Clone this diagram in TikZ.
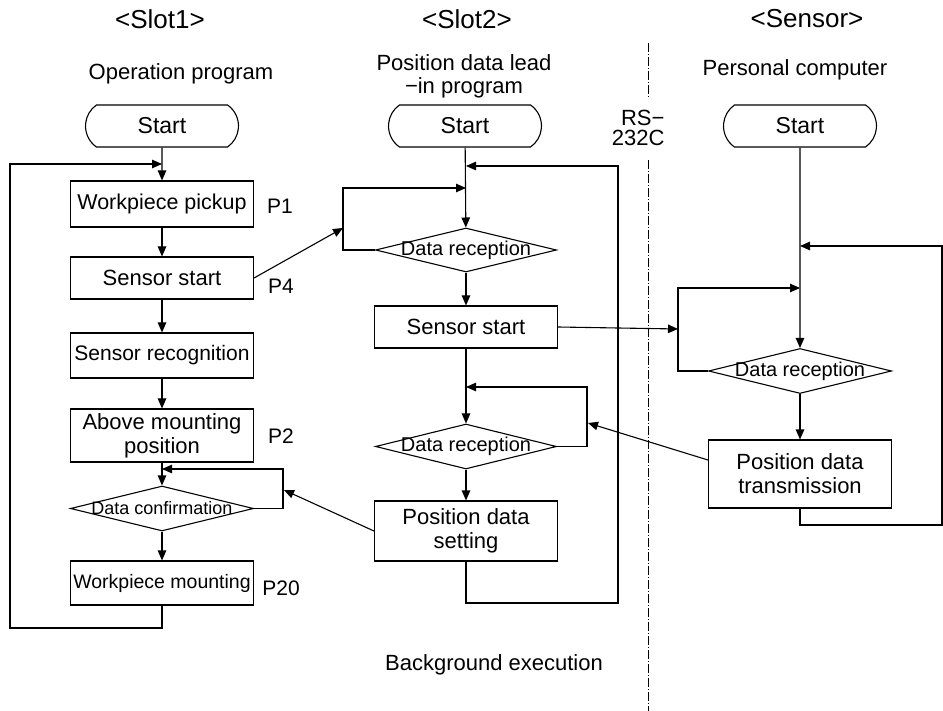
\documentclass[tikz,border=0pt]{standalone}
\usepackage{fontspec}
\setmainfont{Liberation Sans}
\usetikzlibrary{arrows.meta,shapes.geometric,shapes.misc}
\begin{document}
\begin{tikzpicture}[x=1pt,y=-1pt,
  every node/.style={font=\fontsize{22}{24}\selectfont},
  base/.style={line width=1.1pt},
  arr/.style={base,-{Triangle[length=10pt,width=8.5pt]}},
  box/.style={base,draw,rectangle,minimum width=183pt,inner xsep=0pt,inner ysep=2pt,align=center},
  startnode/.style={base,draw,rounded rectangle,rounded rectangle arc length=110,minimum width=153pt,minimum height=42pt,inner xsep=0pt,font=\fontsize{23}{26}\selectfont},
  dec/.style={base,draw,diamond,minimum width=183pt,minimum height=45pt,inner sep=0pt},
  head/.style={font=\fontsize{26}{30}\selectfont},
  plabel/.style={font=\fontsize{21}{24}\selectfont},
  sep/.style={line width=0.8pt,dash pattern=on 9pt off 2pt on 1pt off 2pt}
]
\useasboundingbox (0,0) rectangle (943,711);
% headers
\node[head] (h1) at (160,19) {<Slot1>};
\node[head] (h2) at (467,19) {<Slot2>};
\node[head] (h3) at (807,19) {<Sensor>};
\node (t1) at (181,74) {Operation program};
\node[align=center,font=\fontsize{22}{23}\selectfont] (t2) at (464,76) {Position data lead\\−in program};
\node (t3) at (795,70) {Personal computer};
\node[align=right,anchor=east,font=\fontsize{22}{20}\selectfont] (rs) at (668,128) {RS−\\232C};
\node (bg) at (494,665) {Background execution};
% separator
\coordinate (sa) at (648,43);
\coordinate (sb) at (648,97);
\coordinate (sc) at (648,160);
\coordinate (sd) at (648,711);
\draw[sep] (sa) -- (sb);
\draw[sep] (sc) -- (sd);

% Slot1
\node[startnode] (s1) at (162,126) {Start};
\node[box,minimum height=46pt,font=\fontsize{21.5}{24}\selectfont] (b1) at (162,204) {Workpiece pickup};
\node[box,minimum height=42pt] (b2) at (162,278) {Sensor start};
\node[box,minimum height=45pt,font=\fontsize{21}{24}\selectfont] (b3) at (162,355.5) {Sensor recognition};
\node[box,minimum height=53pt] (b4) at (162,435.5) {Above mounting\\position};
\node[dec,label={[font=\fontsize{18}{20}\selectfont]center:Data confirmation}] (dc) at (162,508.5) {};
\node[box,minimum height=44pt,font=\fontsize{19.5}{24}\selectfont] (b6) at (162,583) {Workpiece mounting};
\node[plabel] (p1) at (280,206) {P1};
\node[plabel] (p4) at (281,286) {P4};
\node[plabel] (p2) at (281,436) {P2};
\node[plabel] (p20) at (281,588) {P20};

\coordinate (j1) at (162,164);
\coordinate (j2) at (162,469);
\coordinate (l1a) at (162,628);
\coordinate (l1b) at (10,628);
\coordinate (l1c) at (10,164);
\coordinate (r1a) at (283,508.5);
\coordinate (r1b) at (283,469);
\draw[arr] (s1) -- (b1);
\draw[arr] (b1) -- (b2);
\draw[arr] (b2) -- (b3);
\draw[arr] (b3) -- (b4);
\draw[arr] (b4) -- (dc);
\draw[arr] (dc) -- (b6);
\draw[arr] (b6.south) -- (l1a) -- (l1b) -- (l1c) -- (j1);
\draw[arr] (dc.east) -- (r1a) -- (r1b) -- (j2);

% Slot2
\node[startnode] (s2) at (465,126) {Start};
\node[dec,minimum width=181pt,minimum height=44pt,label={[font=\fontsize{20}{22}\selectfont]center:Data reception}] (d21) at (466,250) {};
\node[box,minimum height=42pt] (b22) at (466,327) {Sensor start};
\node[dec,minimum width=181pt,label={[font=\fontsize{20}{22}\selectfont]center:Data reception}] (d22) at (466,446.5) {};
\node[box,minimum height=60pt] (b23) at (466,531) {Position data\\setting};

\coordinate (j21) at (466,166);
\coordinate (j22) at (466,188);
\coordinate (j23) at (466,387);
\coordinate (l2a) at (343,250);
\coordinate (l2b) at (343,188);
\coordinate (l2m) at (343,228);
\coordinate (l3a) at (587,446.5);
\coordinate (l3b) at (587,387);
\coordinate (l3m) at (588,423);
\coordinate (g1) at (466,603);
\coordinate (g2) at (618,603);
\coordinate (g3) at (618,166);
\draw[arr] (s2) -- (d21);
\draw[arr] (d21.west) -- (l2a) -- (l2b) -- (j22);
\draw[arr] (d21) -- (b22);
\draw[arr] (b22) -- (d22);
\draw[arr] (d22.east) -- (l3a) -- (l3b) -- (j23);
\draw[arr] (d22) -- (b23);
\draw[arr] (b23.south) -- (g1) -- (g2) -- (g3) -- (j21);
\draw[arr] (b2.east) -- (l2m);
\coordinate (r1m) at (284,490);
\draw[arr] (b23.west) -- (r1m);

% Sensor
\node[startnode] (s3) at (800,126) {Start};
\node[dec,label={[font=\fontsize{20}{22}\selectfont]center:Data reception}] (d3) at (800,371) {};
\node[box,minimum height=68pt] (b32) at (800,474) {Position data\\transmission};
\coordinate (j31) at (800,246);
\coordinate (j32) at (800,288);
\coordinate (l4a) at (678,371);
\coordinate (l4b) at (678,288);
\coordinate (l4m) at (678,329);
\coordinate (e1) at (800,525);
\coordinate (e2) at (942,525);
\coordinate (e3) at (942,246);
\draw[arr] (s3) -- (d3);
\draw[arr] (d3.west) -- (l4a) -- (l4b) -- (j32);
\draw[arr] (d3) -- (b32);
\draw[arr] (b32.south) -- (e1) -- (e2) -- (e3) -- (j31);
\draw[arr] (b22.east) -- (l4m);
\draw[arr] (b32.west |- 0,460) -- (l3m);
\end{tikzpicture}
\end{document}
